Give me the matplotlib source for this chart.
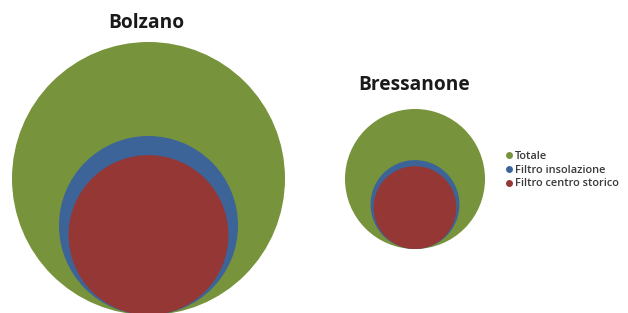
import matplotlib
matplotlib.use("Agg")
import matplotlib.pyplot as plt
from matplotlib.patches import Circle
from matplotlib.lines import Line2D
import numpy as np

# Data (bubble areas, relative units)
cities = ["Bolzano", "Bressanone"]
series = ["Totale", "Filtro insolazione", "Filtro centro storico"]
totale = [100.0, 26.3]
filtro_insolazione = [43.0, 10.6]
filtro_centro_storico = [34.3, 9.2]
colors = ["#77933C", "#3C6499", "#953735"]

# Layout (pixel-like coordinates)
W, H = 628, 313
centers_x = [148.5, 415.0]
baselines = [315.0, 249.0]
title_x = [146, 414]
title_y = [23, 85]
scale = 136.5 / np.sqrt(100.0)   # radius per sqrt(value)

fig = plt.figure(figsize=(W / 100, H / 100), dpi=100)
ax = fig.add_axes([0, 0, 1, 1])
ax.set_xlim(0, W)
ax.set_ylim(H, 0)
ax.set_aspect("equal")
ax.axis("off")

values = [totale, filtro_insolazione, filtro_centro_storico]
for ci, city in enumerate(cities):
    for si in range(len(series)):
        r = scale * np.sqrt(values[si][ci])
        ax.add_patch(Circle((centers_x[ci], baselines[ci] - r), r,
                            facecolor=colors[si], edgecolor="none"))
    ax.text(title_x[ci], title_y[ci], city, ha="center", va="center",
            fontsize=13.8, fontweight="bold", family=["Open Sans", "DejaVu Sans"],
            color="#1a1a1a")

handles = [Line2D([], [], marker="o", linestyle="none", markersize=5,
                  markerfacecolor=c, markeredgecolor="none") for c in colors]
leg = fig.legend(handles, series, loc="upper left",
                 bbox_to_anchor=(496 / W, 1 - 141 / H), frameon=False,
                 handlelength=0.6, handletextpad=0.2, labelspacing=0.25,
                 prop={"family": ["Open Sans", "DejaVu Sans"], "size": 7.9,
                       "weight": "semibold"})
for t in leg.get_texts():
    t.set_color("#3a3a3a")

fig.savefig("out.png", dpi=100, facecolor="white")
